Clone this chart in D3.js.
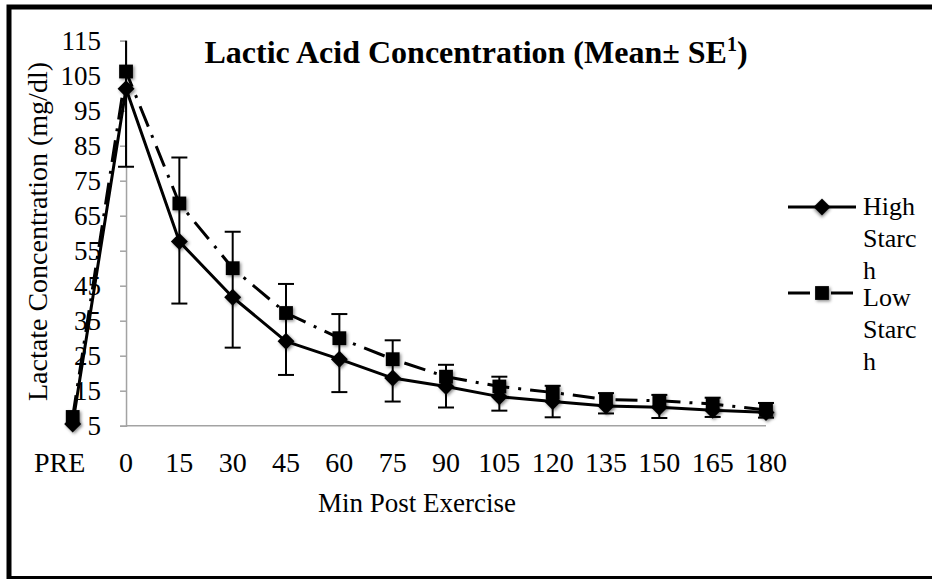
<!DOCTYPE html>
<html><head><meta charset="utf-8">
<script src="https://cdn.jsdelivr.net/npm/d3@7"></script>
<style>
html,body{margin:0;padding:0;background:#fff}
svg{display:block}
text{font-family:"Liberation Serif","Times New Roman",serif;fill:#000}
</style>
</head><body>
<svg id="chart" width="932" height="579"></svg>
<script>
// ---- data ----
const categories = ["PRE","0","15","30","45","60","75","90","105","120","135","150","165","180"];
const highStarch = [5.5, 101.3, 57.6, 41.7, 29.1, 24.0, 18.6, 16.2, 13.3, 11.9, 10.6, 10.3, 9.4, 8.8];
const lowStarch  = [7.5, 106.2, 68.5, 50.0, 37.2, 30.0, 24.0, 19.0, 16.2, 14.5, 12.5, 12.1, 11.2, 9.5];
const errUpper   = [null, 124, 81.6, 60.4, 45.5, 36.9, 29.4, 22.4, 19.0, 16.4, 14.3, 13.8, 13.0, 11.5];
const errLower   = [null, 79.0, 39.9, 27.3, 19.5, 14.6, 11.9, 10.2, 9.3, 7.4, 8.5, 7.2, 7.5, 7.3];
const yTicks = [5,15,25,35,45,55,65,75,85,95,105,115];
const seriesNames = ["High Starch","Low Starch"];
const legendLines = [["High","Starc","h"],["Low","Starc","h"]];
const titleMain = "Lactic Acid Concentration (Mean\u00B1 SE";
const titleSup = "1";
const titleEnd = ")";
const yTitle = "Lactate Concentration (mg/dl)";
const xTitle = "Min Post Exercise";

// ---- layout ----
const W = 932, H = 579;
const svg = d3.select("#chart");
svg.append("rect").attr("width", W).attr("height", H).attr("fill", "#fff");

const defs = svg.append("defs");
const f = defs.append("filter").attr("id","shadow").attr("x","-50%").attr("y","-50%").attr("width","200%").attr("height","200%");
f.append("feDropShadow").attr("dx",1.5).attr("dy",1.5).attr("stdDeviation",1.5)
  .attr("flood-color","#000").attr("flood-opacity",0.45);

const x = d3.scalePoint().domain(categories).range([72.7, 766]);
const y = d3.scaleLinear().domain([5, 115]).range([425.7, 40.7]);
const axisColor = "#a3a3a3";

defs.append("clipPath").attr("id","plotclip").append("rect")
  .attr("x", 0).attr("y", y(115)).attr("width", W).attr("height", H - y(115));

// frame
svg.append("rect").attr("x", 9).attr("y", 7).attr("width", W + 20).attr("height", 571.5)
  .attr("fill","none").attr("stroke","#000").attr("stroke-width",5);

// y axis
const yAxis = svg.append("g").attr("transform", `translate(${x("0")},0)`)
  .call(d3.axisLeft(y).tickValues(yTicks).tickSize(6).tickPadding(19).tickFormat(d3.format("d")));
yAxis.select(".domain").attr("stroke", axisColor).attr("stroke-width", 1.5);
yAxis.selectAll(".tick line").attr("stroke", axisColor).attr("stroke-width", 1.5);
yAxis.selectAll(".tick text").attr("font-size", 27).attr("font-family", "Liberation Serif").attr("fill","#000");

// x axis line
svg.append("line").attr("x1", x("0")).attr("x2", x("180")).attr("y1", y(5)).attr("y2", y(5))
  .attr("stroke", axisColor).attr("stroke-width", 1.5);

// x tick labels
svg.append("g").selectAll("text").data(categories).join("text")
  .attr("x", d => x(d) + (d === "PRE" ? -13 : 0))
  .attr("y", y(5) + 46)
  .attr("text-anchor","middle").attr("font-size", 28)
  .text(d => d);

// axis titles
svg.append("text").attr("x", 417).attr("y", 512).attr("text-anchor","middle").attr("font-size",27).text(xTitle);
svg.append("text").attr("transform","translate(47,231.5) rotate(-90)").attr("text-anchor","middle")
  .attr("font-size",28).text(yTitle);

// title
const t = svg.append("text").attr("x", 476).attr("y", 63).attr("text-anchor","middle")
  .attr("font-size", 32).attr("font-weight","bold");
t.append("tspan").text(titleMain);
t.append("tspan").attr("dy", -12).attr("font-size", 20).text(titleSup);
t.append("tspan").attr("dy", 12).text(titleEnd);

// plot
const plot = svg.append("g").attr("clip-path","url(#plotclip)");

// error bars
const capHalf = 8;
const eb = plot.append("g").attr("stroke","#000").attr("stroke-width",2);
categories.forEach((c, i) => {
  if (errUpper[i] == null) return;
  const cx = x(c);
  eb.append("line").attr("x1",cx).attr("x2",cx).attr("y1",y(errLower[i])).attr("y2",y(errUpper[i]));
  eb.append("line").attr("x1",cx-capHalf).attr("x2",cx+capHalf).attr("y1",y(errLower[i])).attr("y2",y(errLower[i]));
  eb.append("line").attr("x1",cx-capHalf).attr("x2",cx+capHalf).attr("y1",y(errUpper[i])).attr("y2",y(errUpper[i]));
});

const line = d3.line().x((d,i) => x(categories[i])).y(d => y(d));
const series = [
  {name: seriesNames[0], values: highStarch, dash: null, symbol: d3.symbolSquare, size: 144, rot: 45},
  {name: seriesNames[1], values: lowStarch, dash: "22,9,3,9", symbol: d3.symbolSquare, size: 190, rot: 0}
];

// draw low first, then high on top
[series[1], series[0]].forEach(s => {
  plot.append("path").attr("d", line(s.values)).attr("fill","none").attr("stroke","#000")
    .attr("stroke-width",3).attr("stroke-dasharray", s.dash).attr("stroke-linejoin","round");
});
[series[1], series[0]].forEach(s => {
  plot.append("g").attr("filter","url(#shadow)").selectAll("path").data(s.values).join("path")
    .attr("d", d3.symbol(s.symbol, s.size)())
    .attr("transform", (d,i) => `translate(${x(categories[i])},${y(d)}) rotate(${s.rot})`)
    .attr("fill","#000");
});

// legend
const legY = [207, 293];
const legTextY = [215, 306];
series.forEach((s, i) => {
  const g = svg.append("g");
  g.append("line").attr("x1", 788).attr("x2", 856).attr("y1", legY[i]).attr("y2", legY[i])
    .attr("stroke","#000").attr("stroke-width",3).attr("stroke-dasharray", s.dash);
  g.append("path").attr("d", d3.symbol(s.symbol, s.size)())
    .attr("transform", `translate(822,${legY[i]}) rotate(${s.rot})`).attr("fill","#000")
    .attr("filter","url(#shadow)");
  g.selectAll("text").data(legendLines[i]).join("text")
    .attr("x", 863).attr("y", (d,j) => legTextY[i] + j*32).attr("font-size", 26).text(d => d);
});
</script>
</body></html>
